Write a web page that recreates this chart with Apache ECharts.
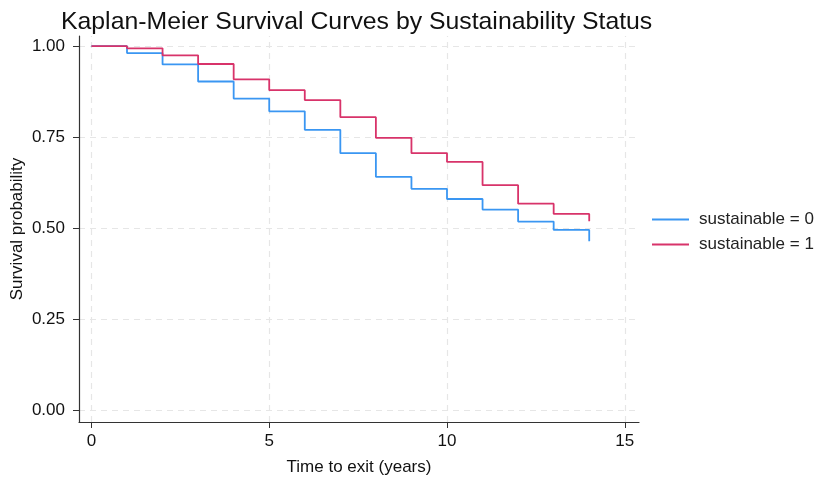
<!DOCTYPE html>
<html>
<head>
<meta charset="utf-8">
<script src="https://cdn.jsdelivr.net/npm/echarts@6/dist/echarts.min.js"></script>
<style>
  html, body { margin: 0; padding: 0; background: #fff; }
  #chart { width: 818px; height: 478px; }
</style>
</head>
<body>
<div id="chart"></div>
<script>
// Kaplan-Meier step estimates by group (time in years, survival probability)
const times = [0, 1, 2, 3, 4, 5, 6, 7, 8, 9, 10, 11, 12, 13, 14];
const survival0 = [1.000, 0.981, 0.950, 0.903, 0.856, 0.821, 0.770, 0.706, 0.641, 0.608, 0.580, 0.551, 0.518, 0.495, 0.464];
const survival1 = [1.000, 0.994, 0.975, 0.951, 0.909, 0.879, 0.852, 0.805, 0.748, 0.706, 0.682, 0.618, 0.567, 0.539, 0.519];
const seriesNames = ['sustainable = 0', 'sustainable = 1'];
const xTicks = [0, 5, 10, 15];
const yTicks = [0, 0.25, 0.5, 0.75, 1];

const toPairs = (vals) => times.map((t, i) => [t, vals[i]]);

const font = 'Liberation Sans, Arial, sans-serif';
const gridLineStyle = { color: '#e6e6e6', type: [6, 5], width: 1.2 };

const chart = echarts.init(document.getElementById('chart'), null, { renderer: 'canvas' });
chart.setOption({
  backgroundColor: '#fff',
  animation: false,
  title: {
    text: 'Kaplan-Meier Survival Curves by Sustainability Status',
    left: 56, top: 5,
    textStyle: { fontFamily: font, fontSize: 24.8, fontWeight: 'normal', color: '#111' }
  },
  legend: {
    orient: 'vertical',
    left: 647, top: 206,
    itemWidth: 37, itemHeight: 2, itemGap: 8,
    icon: 'rect',
    textStyle: { fontFamily: font, fontSize: 17, color: '#222', padding: [0, 0, 0, 5] },
    data: seriesNames
  },
  grid: { left: 79, right: 179, top: 36, bottom: 56, containLabel: false, outerBoundsMode: 'none' },
  xAxis: {
    type: 'value',
    min: -0.35, max: 15.4,
    interval: 5,
    name: 'Time to exit (years)',
    nameLocation: 'middle', nameGap: 37,
    nameTextStyle: { fontFamily: font, fontSize: 17, color: '#111' },
    axisLine: { show: true, onZero: false, lineStyle: { color: '#333', width: 1.2 } },
    axisTick: { show: true, length: 6, lineStyle: { color: '#333' }, customValues: xTicks },
    axisLabel: { fontFamily: font, fontSize: 17, color: '#111', margin: 11, customValues: xTicks },
    splitLine: { show: false }
  },
  yAxis: {
    type: 'value',
    min: -0.033, max: 1.028,
    name: 'Survival probability',
    nameLocation: 'middle', nameGap: 53, nameMoveOverlap: false,
    nameTextStyle: { fontFamily: font, fontSize: 17, color: '#111' },
    axisLine: { show: true, onZero: false, lineStyle: { color: '#333', width: 1.2 } },
    axisTick: { show: true, length: 6, lineStyle: { color: '#333' }, customValues: yTicks },
    axisLabel: { fontFamily: font, fontSize: 17, color: '#111', margin: 14,
      customValues: yTicks, formatter: (v) => v.toFixed(2) },
    splitLine: { show: false }
  },
  series: [
    {
      // dashed reference grid at the tick positions, kept beneath the curves
      type: 'line', silent: true, symbol: 'none', data: [], z: 0,
      markLine: {
        z: 0, silent: true, symbol: 'none', label: { show: false },
        lineStyle: gridLineStyle,
        data: xTicks.map(v => ({ xAxis: v })).concat(yTicks.map(v => ({ yAxis: v })))
      }
    },
    {
      name: seriesNames[0], type: 'line', step: 'end', symbol: 'none',
      data: toPairs(survival0), z: 3,
      lineStyle: { color: '#3a96f2', width: 1.8 }, itemStyle: { color: '#3a96f2' }
    },
    {
      name: seriesNames[1], type: 'line', step: 'end', symbol: 'none',
      data: toPairs(survival1), z: 4,
      lineStyle: { color: '#d8336a', width: 1.8 }, itemStyle: { color: '#d8336a' }
    }
  ]
});
</script>
</body>
</html>
